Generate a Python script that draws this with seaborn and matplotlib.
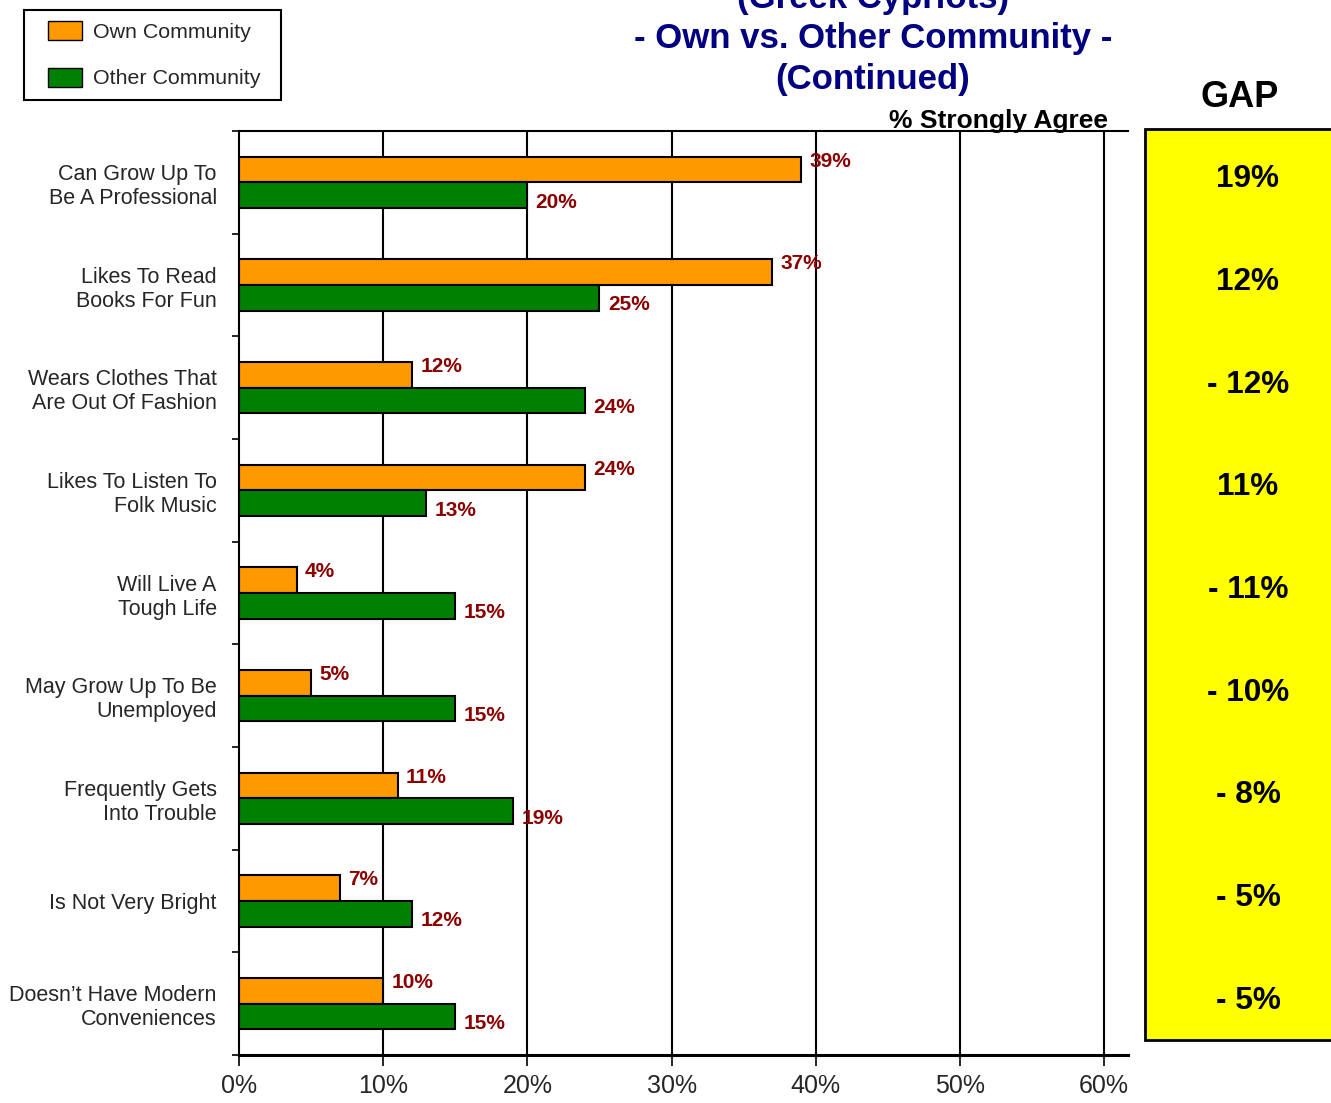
import numpy as np
import pandas as pd
import seaborn as sns
import matplotlib
matplotlib.use("Agg")
import matplotlib.pyplot as plt
import matplotlib.transforms as mtransforms
from matplotlib.patches import Patch, Rectangle

# chart data
items = [
    "Can Grow Up To\nBe A Professional",
    "Likes To Read\nBooks For Fun",
    "Wears Clothes That\nAre Out Of Fashion",
    "Likes To Listen To\nFolk Music",
    "Will Live A\nTough Life",
    "May Grow Up To Be\nUnemployed",
    "Frequently Gets\nInto Trouble",
    "Is Not Very Bright",
    "Doesn\u2019t Have Modern\nConveniences",
]
own_community = [39, 37, 12, 24, 4, 5, 11, 7, 10]
other_community = [20, 25, 24, 13, 15, 15, 19, 12, 15]
gap = [19, 12, -12, 11, -11, -10, -8, -5, -5]
x_ticks = [0, 10, 20, 30, 40, 50, 60]

series_names = ["Own Community", "Other Community"]
palette = {"Own Community": "#FF9900", "Other Community": "#008000"}
label_color = "#8B0000"
title_color = "#000080"

df = pd.DataFrame({
    "item": items * 2,
    "value": own_community + other_community,
    "community": [series_names[0]] * len(items) + [series_names[1]] * len(items),
})

sns.set_style("white")
plt.rcParams["font.family"] = ["Liberation Sans", "DejaVu Sans"]

fig = plt.figure(figsize=(13.31, 11.03), dpi=100)
ax = fig.add_axes([0.1796, 0.0435, 0.6679, 0.8377])

sns.barplot(
    data=df, x="value", y="item", hue="community", orient="h",
    palette=palette, hue_order=series_names, width=0.5, saturation=1,
    edgecolor="black", linewidth=1.5, legend=False, ax=ax,
)

ax.set_xlim(0, 61.66)
ax.set_ylim(8.5, -0.5)
ax.set_xlabel("")
ax.set_ylabel("")

# vertical gridlines
ax.set_xticks(x_ticks)
ax.set_xticklabels([f"{t}%" for t in x_ticks], fontsize=18)
for t in x_ticks[1:]:
    ax.axvline(t, color="black", lw=1.5, zorder=0)

# category labels and separators
ax.tick_params(axis="y", which="major", length=0, pad=16, labelsize=15.5)
ax.set_yticks(np.arange(-0.5, len(items), 1), minor=True)
ax.tick_params(axis="y", which="minor", left=True, length=5, width=1.2, color="black")
ax.tick_params(axis="x", which="major", bottom=True, length=8, width=1.2,
               color="black", pad=6)

for side in ["left", "top"]:
    ax.spines[side].set_color("black")
    ax.spines[side].set_linewidth(1.5)
ax.spines["bottom"].set_color("black")
ax.spines["bottom"].set_linewidth(2.2)
ax.spines["right"].set_visible(False)

# value labels
for container, dy in zip(ax.containers, [6, -5]):
    anns = ax.bar_label(container, fmt="%d%%", padding=6, fontsize=15,
                        fontweight="bold", color=label_color)
    for a in anns:
        a.xyann = (6, dy)

# legend (frame drawn separately for the wider side padding)
handles = [Patch(facecolor=palette[n], edgecolor="black", lw=1, label=n)
           for n in series_names]
fig.legend(handles=handles, loc="upper left",
           bbox_to_anchor=(48 / 1331, 1 - 21 / 1103), borderaxespad=0,
           fontsize=15.4, frameon=False,
           handlelength=1.6, handleheight=1.0, handletextpad=0.5,
           labelspacing=1.2, borderpad=0)
fig.add_artist(Rectangle((24 / 1331, 1 - 100 / 1103), 257 / 1331, 90 / 1103,
                         transform=fig.transFigure, facecolor="none",
                         edgecolor="black", lw=1.5))

# title (top line is cut off at the figure edge, as in the source)
tx = 873 / 1331
for line, ypx in zip(["(Greek Cypriots)", "- Own vs. Other Community -", "(Continued)"],
                     [8, 48, 89]):
    fig.text(tx, 1 - ypx / 1103, line, ha="center", va="baseline",
             fontsize=25, fontweight="bold", color=title_color)

fig.text(1108 / 1331, 1 - 128 / 1103, "% Strongly Agree", ha="right",
         va="baseline", fontsize=19, fontweight="bold", color="black")

# gap panel
fig.add_artist(Rectangle((1145 / 1331, 1 - 1040 / 1103), 0.2, (1040 - 129) / 1103,
                         transform=fig.transFigure, facecolor="#FFFF00",
                         edgecolor="black", lw=2, clip_on=False))
fig.text(1240 / 1331, 1 - 97 / 1103, "GAP", ha="center", va="center",
         fontsize=26, fontweight="bold", color="black")
trans = mtransforms.blended_transform_factory(fig.transFigure, ax.transData)
for i, g in enumerate(gap):
    txt = f"{g}%" if g > 0 else f"- {abs(g)}%"
    fig.text(1248 / 1331, i - 0.03, txt, transform=trans, ha="center",
             va="center", fontsize=22.7, fontweight="bold", color="black")

fig.savefig("out.png", dpi=100)
